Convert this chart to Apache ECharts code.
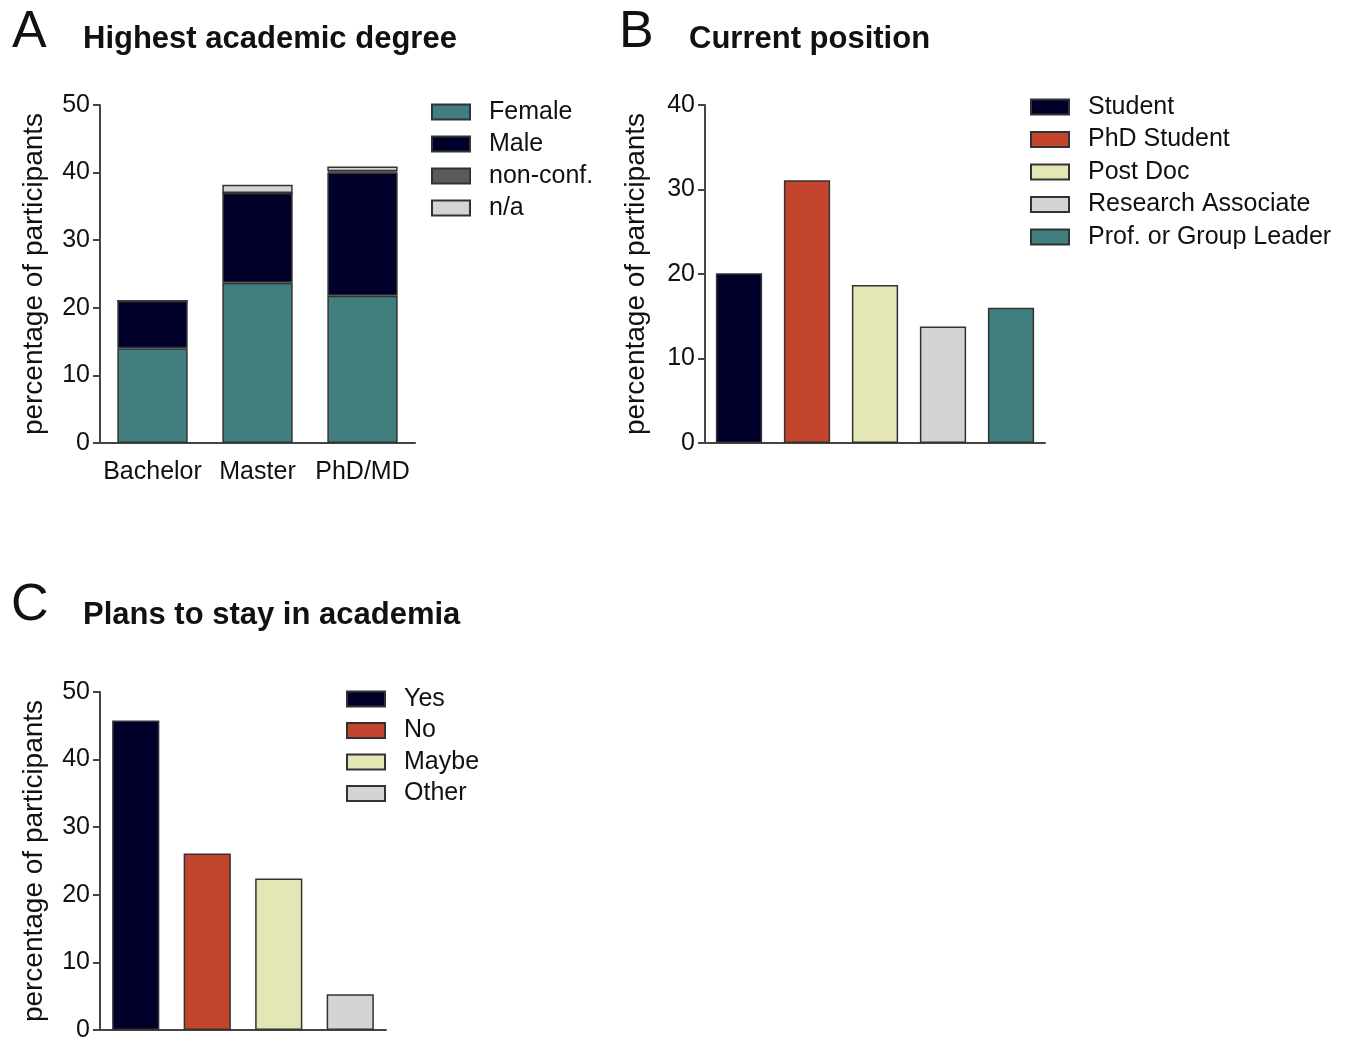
<!DOCTYPE html>
<html>
<head>
<meta charset="utf-8">
<script src="https://cdn.jsdelivr.net/npm/echarts@6/dist/echarts.min.js"></script>
<style>html,body{margin:0;padding:0;background:#fff;}#c{width:1352px;height:1037px;}</style>
</head>
<body>
<div id="c"></div>
<script>
// Panel A: Highest academic degree (stacked)
const degreeCats = ['Bachelor', 'Master', 'PhD/MD'];
const female = [14, 23.7, 21.8];
const male = [7, 13.3, 18.2];
const nonConf = [0, 0, 0.2];
const na = [0, 1.2, 0.7];
const ticksA = [0, 10, 20, 30, 40, 50];

// Panel B: Current position
const posCats = ['Student', 'PhD Student', 'Post Doc', 'Research Associate', 'Prof. or Group Leader'];
const posVals = [20.1, 31.1, 18.7, 13.8, 16.0];
const ticksB = [0, 10, 20, 30, 40];

// Panel C: Plans to stay in academia
const planCats = ['Yes', 'No', 'Maybe', 'Other'];
const planVals = [45.8, 26.1, 22.4, 5.3];
const ticksC = [0, 10, 20, 30, 40, 50];

const FONT = 'Liberation Sans, Arial, sans-serif';
const TXT = '#111';
const AX = '#444';
const BORDER = '#333';
const C_TEAL = '#417f7e', C_NAVY = '#00002a', C_DGRAY = '#5a5a5a', C_LGRAY = '#d4d4d4', C_RED = '#c4452e', C_CREAM = '#e4e6b6';

const posColors = [C_NAVY, C_RED, C_CREAM, C_LGRAY, C_TEAL];
const planColors = [C_NAVY, C_RED, C_CREAM, C_LGRAY];

function yAx(gi, max, ticks, gap) {
  return {
    gridIndex: gi, type: 'value', min: 0, max: max, interval: ticks[1] - ticks[0],
    name: 'percentage of participants', nameLocation: 'middle', nameGap: gap, nameRotate: 90,
    nameTextStyle: { fontFamily: FONT, fontSize: 28, color: TXT },
    axisLine: { show: true, lineStyle: { color: AX, width: 2 } },
    axisTick: { show: true, length: 7, lineStyle: { color: AX, width: 2 } },
    axisLabel: { fontFamily: FONT, fontSize: 25, color: TXT, margin: 10 },
    splitLine: { show: false }
  };
}
function xAx(gi, cats, showLabels) {
  return {
    gridIndex: gi, type: 'category', data: cats, boundaryGap: true,
    axisLine: { show: true, lineStyle: { color: AX, width: 2 } },
    axisTick: { show: false },
    axisLabel: { show: showLabels, interval: 0, hideOverlap: false, fontFamily: FONT, fontSize: 25, color: TXT, margin: 17 },
    splitLine: { show: false }
  };
}
const itemBorder = { borderColor: BORDER, borderWidth: 1.5 };

const series = [];
// Panel A
[['Female', female, C_TEAL], ['Male', male, C_NAVY], ['non-conf.', nonConf, C_DGRAY], ['n/a', na, C_LGRAY]].forEach(function (s) {
  series.push({
    name: s[0], type: 'bar', xAxisIndex: 0, yAxisIndex: 0, stack: 'A', data: s[1],
    barCategoryGap: '33%', itemStyle: Object.assign({ color: s[2] }, itemBorder)
  });
});
// Panel B
posCats.forEach(function (c, i) {
  series.push({
    name: c, type: 'bar', xAxisIndex: 1, yAxisIndex: 1, stack: 'B',
    data: posCats.map(function (_, j) { return j === i ? posVals[i] : '-'; }),
    barCategoryGap: '32%', itemStyle: Object.assign({ color: posColors[i] }, itemBorder)
  });
});
// Panel C
planCats.forEach(function (c, i) {
  series.push({
    name: c, type: 'bar', xAxisIndex: 2, yAxisIndex: 2, stack: 'C',
    data: planCats.map(function (_, j) { return j === i ? planVals[i] : '-'; }),
    barCategoryGap: '34%', itemStyle: Object.assign({ color: planColors[i] }, itemBorder)
  });
});

function legend(names, left, top, gap) {
  return {
    orient: 'vertical', left: left, top: top, data: names, icon: 'rect',
    itemWidth: 38, itemHeight: 15, itemGap: gap, padding: 0, selectedMode: false,
    textStyle: { fontFamily: FONT, fontSize: 25, color: TXT, lineHeight: 30, padding: [0, 0, 0, 14] }
  };
}
function ttl(text, left, top, size, bold) {
  return { text: text, left: left, top: top, padding: 0,
    textStyle: { fontFamily: FONT, fontSize: size, fontWeight: bold ? 'bold' : 'normal', color: TXT } };
}

const option = {
  backgroundColor: '#fff',
  animation: false,
  title: [
    ttl('A', 12, 7, 52, false),
    ttl('Highest academic degree', 83, 24, 31, true),
    ttl('B', 619, 7, 52, false),
    ttl('Current position', 689, 24, 31, true),
    ttl('C', 11, 580, 52, false),
    ttl('Plans to stay in academia', 83, 600, 31, true)
  ],
  legend: [
    legend(['Female', 'Male', 'non-conf.', 'n/a'], 431, 97, 2),
    legend(posCats, 1030, 92, 2.5),
    legend(planCats, 346, 684, 1.5)
  ],
  grid: [
    { left: 100, top: 105, width: 315, height: 338, outerBoundsMode: 'none', containLabel: false },
    { left: 705, top: 105, width: 340, height: 338, outerBoundsMode: 'none', containLabel: false },
    { left: 100, top: 692, width: 286, height: 338, outerBoundsMode: 'none', containLabel: false }
  ],
  xAxis: [xAx(0, degreeCats, true), xAx(1, posCats, false), xAx(2, planCats, false)],
  yAxis: [yAx(0, 50, ticksA, 52), yAx(1, 40, ticksB, 55), yAx(2, 50, ticksC, 52)],
  series: series
};

const chart = echarts.init(document.getElementById('c'), null, { renderer: 'canvas' });
chart.setOption(option);
</script>
</body>
</html>
